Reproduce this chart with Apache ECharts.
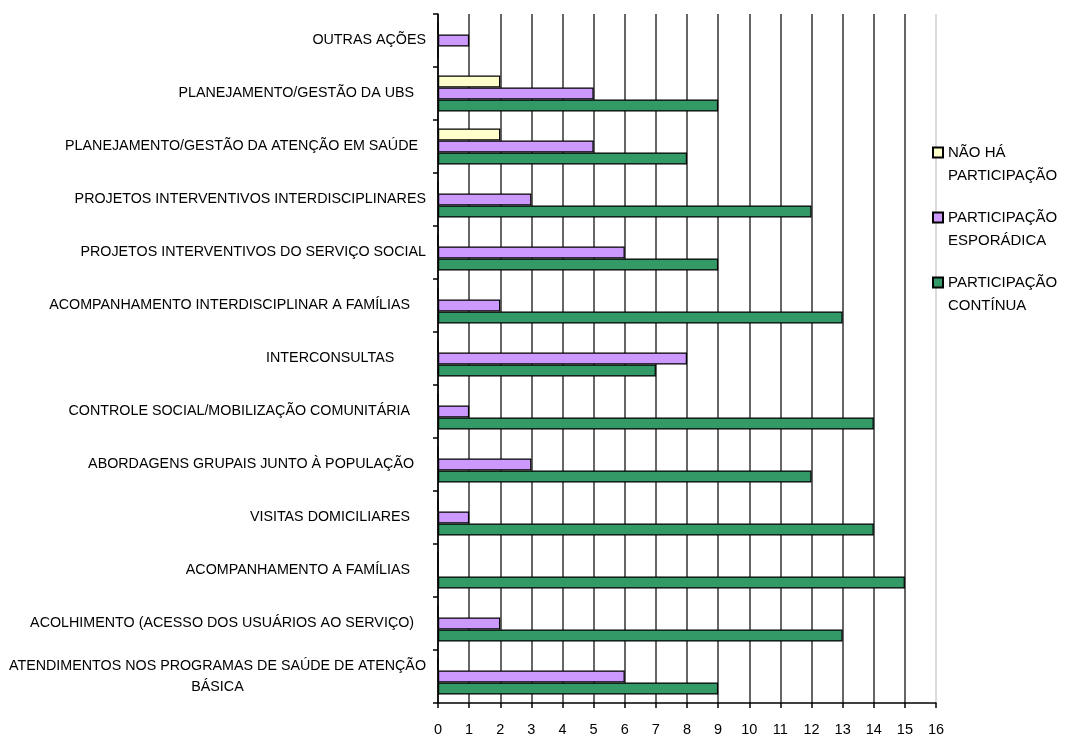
<!DOCTYPE html>
<html>
<head>
<meta charset="utf-8">
<title>Participação em ações</title>
<script src="https://cdn.jsdelivr.net/npm/echarts@6/dist/echarts.min.js"></script>
<style>
  html, body { margin: 0; padding: 0; background: #ffffff; }
  #chart { width: 1070px; height: 738px; }
</style>
</head>
<body>
<div id="chart"></div>
<script>
// Ações, listadas de cima para baixo (espaços finais mantidos como no rótulo original)
const categorias = [
  'OUTRAS AÇÕES',
  'PLANEJAMENTO/GESTÃO DA UBS   ',
  'PLANEJAMENTO/GESTÃO DA ATENÇÃO EM SAÚDE  ',
  'PROJETOS INTERVENTIVOS INTERDISCIPLINARES',
  'PROJETOS INTERVENTIVOS DO SERVIÇO SOCIAL',
  'ACOMPANHAMENTO INTERDISCIPLINAR A FAMÍLIAS    ',
  'INTERCONSULTAS        ',
  'CONTROLE SOCIAL/MOBILIZAÇÃO COMUNITÁRIA    ',
  'ABORDAGENS GRUPAIS JUNTO À POPULAÇÃO   ',
  'VISITAS DOMICILIARES    ',
  'ACOMPANHAMENTO A FAMÍLIAS    ',
  'ACOLHIMENTO (ACESSO DOS USUÁRIOS AO SERVIÇO)   ',
  'ATENDIMENTOS NOS PROGRAMAS DE SAÚDE DE ATENÇÃO\nBÁSICA'
];

const nomesSeries = [
  'NÃO HÁ\nPARTICIPAÇÃO',
  'PARTICIPAÇÃO\nESPORÁDICA',
  'PARTICIPAÇÃO\nCONTÍNUA'
];

const naoHaParticipacao      = [0, 2, 2, 0, 0, 0, 0, 0, 0, 0, 0, 0, 0];
const participacaoEsporadica = [1, 5, 5, 3, 6, 2, 8, 1, 3, 1, 0, 2, 6];
const participacaoContinua   = [0, 9, 8, 12, 9, 13, 7, 14, 12, 14, 15, 13, 9];

const ticksX = [0, 16];

const cores = ['#FFFFCC', '#CC99FF', '#339966'];
const fonte = '"Liberation Sans", Arial, Helvetica, sans-serif';

// 16 linhas escuras e a última (16) clara
const coresGrade = [];
for (let i = ticksX[0]; i <= ticksX[1]; i++) coresGrade.push(i === ticksX[1] ? '#d0d0d0' : '#333333');

const valores = [naoHaParticipacao, participacaoEsporadica, participacaoContinua];

const chart = echarts.init(document.getElementById('chart'), null, { renderer: 'canvas' });

chart.setOption({
  backgroundColor: '#ffffff',
  animation: false,
  textStyle: { fontFamily: fonte, color: '#000' },
  grid: { left: 438, right: 134, top: 14, bottom: 35, containLabel: false },
  legend: {
    orient: 'vertical',
    left: 932,
    top: 118,
    padding: 0,
    itemGap: -4,
    itemWidth: 10,
    itemHeight: 10,
    icon: 'rect',
    selectedMode: false,
    data: nomesSeries,
    // linha vazia no início: o marcador fica alinhado com a primeira linha do texto
    formatter: function (nome) { return '\n' + nome; },
    textStyle: {
      fontFamily: fonte,
      fontSize: 15,
      lineHeight: 23,
      color: '#000'
    }
  },
  xAxis: {
    type: 'value',
    min: ticksX[0],
    max: ticksX[1],
    interval: 1,
    axisLine: { show: true, lineStyle: { color: '#000', width: 1.5 } },
    axisTick: { show: true, length: 5, lineStyle: { color: '#000', width: 1.5 } },
    axisLabel: { fontFamily: fonte, fontSize: 14.5, color: '#000', margin: 19 },
    splitLine: { show: true, lineStyle: { color: coresGrade, width: 1.5 } }
  },
  yAxis: {
    type: 'category',
    inverse: true,
    data: categorias,
    axisLine: { show: true, lineStyle: { color: '#000', width: 1.5 } },
    axisTick: { show: true, length: 5, lineStyle: { color: '#000', width: 1.5 } },
    splitLine: { show: false },
    axisLabel: {
      margin: 12,
      color: '#000',
      formatter: function (v) {
        return v.split('\n').map(function (l) { return '{c|' + l + '}'; }).join('\n');
      },
      rich: {
        c: { align: 'center', fontFamily: fonte, fontSize: 14.3, lineHeight: 21, color: '#000' }
      }
    }
  },
  series: nomesSeries.map(function (nome, i) {
    return {
      name: nome,
      type: 'bar',
      data: valores[i],
      barWidth: 12,
      barGap: '0%',
      itemStyle: { color: cores[i], borderColor: '#000', borderWidth: 1.2 },
      emphasis: { disabled: true }
    };
  })
});
</script>
</body>
</html>
